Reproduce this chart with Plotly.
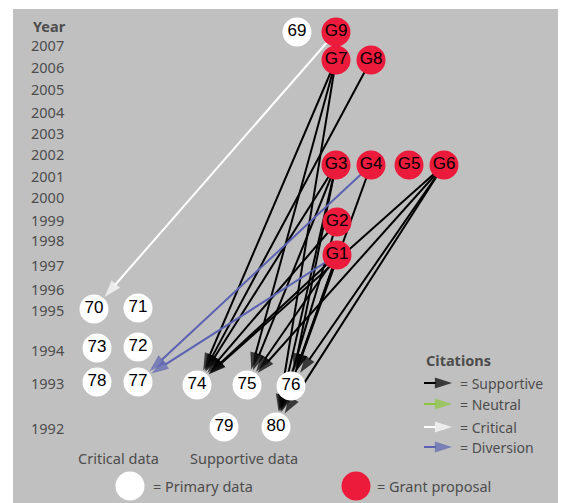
import numpy as np
import plotly.graph_objects as go

# ---------------- data ----------------
years = ["2007", "2006", "2005", "2004", "2003", "2002", "2001", "2000",
         "1999", "1998", "1997", "1996", "1995", "1994", "1993", "1992"]
year_rows = [45, 67, 89, 112, 133, 154, 176, 197, 220, 240, 265, 289, 310, 350, 383, 428]

node_ids = ["69", "G9", "G7", "G8", "G3", "G4", "G5", "G6", "G2", "G1",
            "70", "71", "73", "72", "78", "77", "74", "75", "76", "79", "80"]
node_kind = ["primary", "grant", "grant", "grant", "grant", "grant", "grant", "grant", "grant", "grant",
             "primary", "primary", "primary", "primary", "primary", "primary",
             "primary", "primary", "primary", "primary", "primary"]
node_x = [297, 336, 336, 371, 336, 371, 409, 444, 337, 337,
          94, 138, 97, 138, 97, 138, 197, 247, 291, 224, 276]
node_y = [32, 32, 60, 60, 165, 165, 165, 165, 222, 255,
          309, 308, 348, 347, 382, 382, 385, 385, 386, 427, 427]

edges_supportive = [("G7", "74"), ("G7", "75"), ("G7", "80"), ("G8", "74"),
                    ("G3", "74"), ("G3", "75"), ("G3", "76"), ("G3", "80"),
                    ("G4", "76"),
                    ("G6", "74"), ("G6", "75"), ("G6", "76"), ("G6", "80"),
                    ("G2", "74"), ("G2", "80"),
                    ("G1", "74"), ("G1", "75"), ("G1", "76"), ("G1", "80")]
edges_neutral = []
edges_critical = [("G9", "70")]
edges_diversion = [("G4", "77"), ("G1", "77")]

citation_labels = ["= Supportive", "= Neutral", "= Critical", "= Diversion"]
citation_colors = ["#000000", "#8cc63e", "#ffffff", "#5b62b1"]
citation_rows = [383, 404, 427, 447]

column_titles = ["Critical data", "Supportive data"]
node_legend_labels = ["= Primary data", "= Grant proposal"]

# ---------------- styles ----------------
GRAY = "#c0c0c0"
RED = "#ec1b3b"
TXT = "#4d4d4d"
SANS = "Noto Sans, Open Sans, sans-serif"
NODE_FONT = "Liberation Sans, Arial, sans-serif"
R = 16

pos = {n: (x, y) for n, x, y in zip(node_ids, node_x, node_y)}

fig = go.Figure()


def arrow(x0, y0, x1, y1, color, stop=R):
    d = np.array([x1 - x0, y1 - y0], dtype=float)
    u = d / np.linalg.norm(d)
    tx, ty = x1 - u[0] * stop, y1 - u[1] * stop
    fig.add_trace(go.Scatter(
        x=[x0, tx], y=[y0, ty], mode="lines+markers",
        line=dict(color=color, width=2),
        marker=dict(symbol="arrow", size=[0, 18], angleref="previous", color=color,
                    line=dict(width=0)),
        hoverinfo="skip", showlegend=False))


for edges, col in [(edges_supportive, citation_colors[0]), (edges_neutral, citation_colors[1]),
                   (edges_critical, citation_colors[2]), (edges_diversion, citation_colors[3])]:
    for s, t in edges:
        arrow(*pos[s], *pos[t], col)

# nodes
fig.add_trace(go.Scatter(
    x=node_x, y=node_y, mode="markers+text", text=node_ids,
    textposition="middle center",
    textfont=dict(family=NODE_FONT, size=17, color="black"),
    marker=dict(size=29, color=[RED if k == "grant" else "white" for k in node_kind],
                line=dict(width=0)),
    hoverinfo="skip", showlegend=False))

# node legend circles
fig.add_trace(go.Scatter(
    x=[130, 356], y=[486, 486], mode="markers",
    marker=dict(size=29, color=["white", RED], line=dict(width=0)),
    hoverinfo="skip", showlegend=False))

# citation legend arrows
for lab, col, row in zip(citation_labels, citation_colors, citation_rows):
    arrow(424, row, 452, row, col, stop=0)

ann = []
ann.append(dict(x=31, y=26, text="<b>Year</b>", xanchor="left", yanchor="middle",
                showarrow=False, font=dict(family=SANS, size=14.5, color=TXT)))
for yl, yr in zip(years, year_rows):
    ann.append(dict(x=29, y=yr, text=yl, xanchor="left", yanchor="middle", showarrow=False,
                    font=dict(family=SANS, size=14.5, color=TXT)))
for t, x in zip(column_titles, [118, 244]):
    ann.append(dict(x=x, y=458, text=t, xanchor="center", yanchor="middle", showarrow=False,
                    font=dict(family=SANS, size=14.5, color=TXT)))
for t, x in zip(node_legend_labels, [151, 375]):
    ann.append(dict(x=x, y=486, text=t, xanchor="left", yanchor="middle", showarrow=False,
                    font=dict(family=SANS, size=14.5, color=TXT)))
ann.append(dict(x=424, y=360, text="<b>Citations</b>", xanchor="left", yanchor="middle",
                showarrow=False, font=dict(family=SANS, size=14.5, color=TXT)))
for lab, row in zip(citation_labels, citation_rows):
    ann.append(dict(x=459, y=row, text=lab, xanchor="left", yanchor="middle", showarrow=False,
                    borderpad=0, font=dict(family=SANS, size=14, color=TXT)))

fig.update_layout(
    width=565, height=503, margin=dict(l=0, r=0, t=0, b=0),
    paper_bgcolor="white", plot_bgcolor="white",
    xaxis=dict(range=[0, 565], visible=False, fixedrange=True),
    yaxis=dict(range=[503, 0], visible=False, fixedrange=True),
    shapes=[dict(type="rect", xref="x", yref="y", x0=13, x1=558, y0=9, y1=503,
                 fillcolor=GRAY, line=dict(width=0), layer="below")],
    annotations=ann,
)

fig.write_html("out.html", config={"displayModeBar": False, "staticPlot": True},
               post_script="document.body.style.margin='0';")
